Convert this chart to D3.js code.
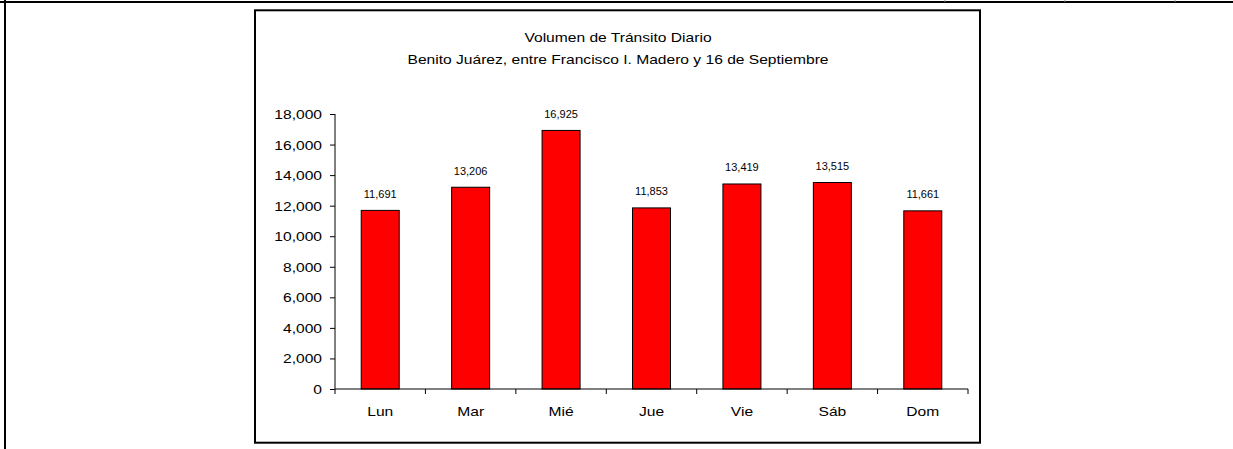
<!DOCTYPE html>
<html>
<head>
<meta charset="utf-8">
<script src="https://cdnjs.cloudflare.com/ajax/libs/d3/7.8.5/d3.min.js"></script>
<style>
  html, body { margin: 0; padding: 0; background: #fff; }
  svg { display: block; }
  text { font-family: "Liberation Sans", Arial, sans-serif; fill: #000; }
</style>
</head>
<body>
<svg id="chart" width="1233" height="449"></svg>
<script>
// Daily traffic volume by weekday
const days = ["Lun", "Mar", "Mié", "Jue", "Vie", "Sáb", "Dom"];
const volumes = [11691, 13206, 16925, 11853, 13419, 13515, 11661];
const yTicks = [0, 2000, 4000, 6000, 8000, 10000, 12000, 14000, 16000, 18000];
const titleLines = [
  "Volumen de Tránsito Diario",
  "Benito Juárez, entre Francisco I. Madero y 16 de Septiembre"
];

const svg = d3.select("#chart");
const fmt = d3.format(",");
const stretch = 1.2; // wide lettering used throughout the sheet

// page frame
svg.append("line").attr("x1", 0).attr("x2", 1233).attr("y1", 2).attr("y2", 2)
  .attr("stroke", "#000").attr("stroke-width", 2);
svg.append("line").attr("x1", 5).attr("x2", 5).attr("y1", 0).attr("y2", 449)
  .attr("stroke", "#000").attr("stroke-width", 2);
[945, 1065, 1175].forEach(x => {
  svg.append("line").attr("x1", x).attr("x2", x).attr("y1", 0).attr("y2", 2)
    .attr("stroke", "#888").attr("stroke-width", 1);
});

// chart box
svg.append("rect")
  .attr("x", 255).attr("y", 10.3).attr("width", 725).attr("height", 432.4)
  .attr("fill", "#fff").attr("stroke", "#000").attr("stroke-width", 2);

const plot = { left: 335, right: 968, top: 114, bottom: 389 };

const x = d3.scaleBand().domain(days).range([plot.left, plot.right]);
const y = d3.scaleLinear().domain([0, 18000]).range([plot.bottom, plot.top]);
const barW = 38;

// title
titleLines.forEach((t, i) => {
  svg.append("text")
    .attr("transform", `translate(618,${42 + i * 22}) scale(${stretch},1)`)
    .attr("text-anchor", "middle")
    .attr("font-size", 13)
    .text(t);
});

// bars
svg.append("g").selectAll("rect").data(volumes).join("rect")
  .attr("x", (d, i) => x(days[i]) + x.bandwidth() / 2 - barW / 2)
  .attr("y", d => y(d))
  .attr("width", barW)
  .attr("height", d => y(0) - y(d))
  .attr("fill", "#FF0000")
  .attr("stroke", "#000")
  .attr("stroke-width", 1);

// value labels
svg.append("g").selectAll("text").data(volumes).join("text")
  .attr("transform", (d, i) =>
    `translate(${x(days[i]) + x.bandwidth() / 2},${y(d) - 12.5}) scale(1.1,1)`)
  .attr("text-anchor", "middle")
  .attr("font-size", 10)
  .text(d => fmt(d));

// y axis
const yAxis = svg.append("g").attr("transform", `translate(${plot.left},0)`)
  .call(d3.axisLeft(y).tickValues(yTicks).tickSize(5).tickFormat(fmt));
yAxis.select(".domain").attr("stroke", "#000").attr("d", `M0,${plot.top}V${plot.bottom}`);
yAxis.selectAll(".tick line").attr("stroke", "#000");
yAxis.selectAll(".tick text")
  .attr("x", null).attr("dy", null)
  .attr("font-size", 13).attr("font-family", null)
  .attr("text-anchor", "end")
  .attr("transform", `translate(-13,4.5) scale(${stretch},1)`);

// x axis with ticks at category boundaries
const xAxisG = svg.append("g").attr("transform", `translate(0,${plot.bottom})`);
xAxisG.append("line")
  .attr("x1", plot.left).attr("x2", plot.right)
  .attr("stroke", "#000");
const bounds = days.map(d => x(d)).concat([plot.right]);
xAxisG.selectAll("line.tk").data(bounds).join("line").attr("class", "tk")
  .attr("x1", d => d).attr("x2", d => d).attr("y1", 0).attr("y2", 5)
  .attr("stroke", "#000");
xAxisG.selectAll("text").data(days).join("text")
  .attr("transform", d => `translate(${x(d) + x.bandwidth() / 2},27) scale(${stretch},1)`)
  .attr("text-anchor", "middle")
  .attr("font-size", 13)
  .text(d => d);
</script>
</body>
</html>
